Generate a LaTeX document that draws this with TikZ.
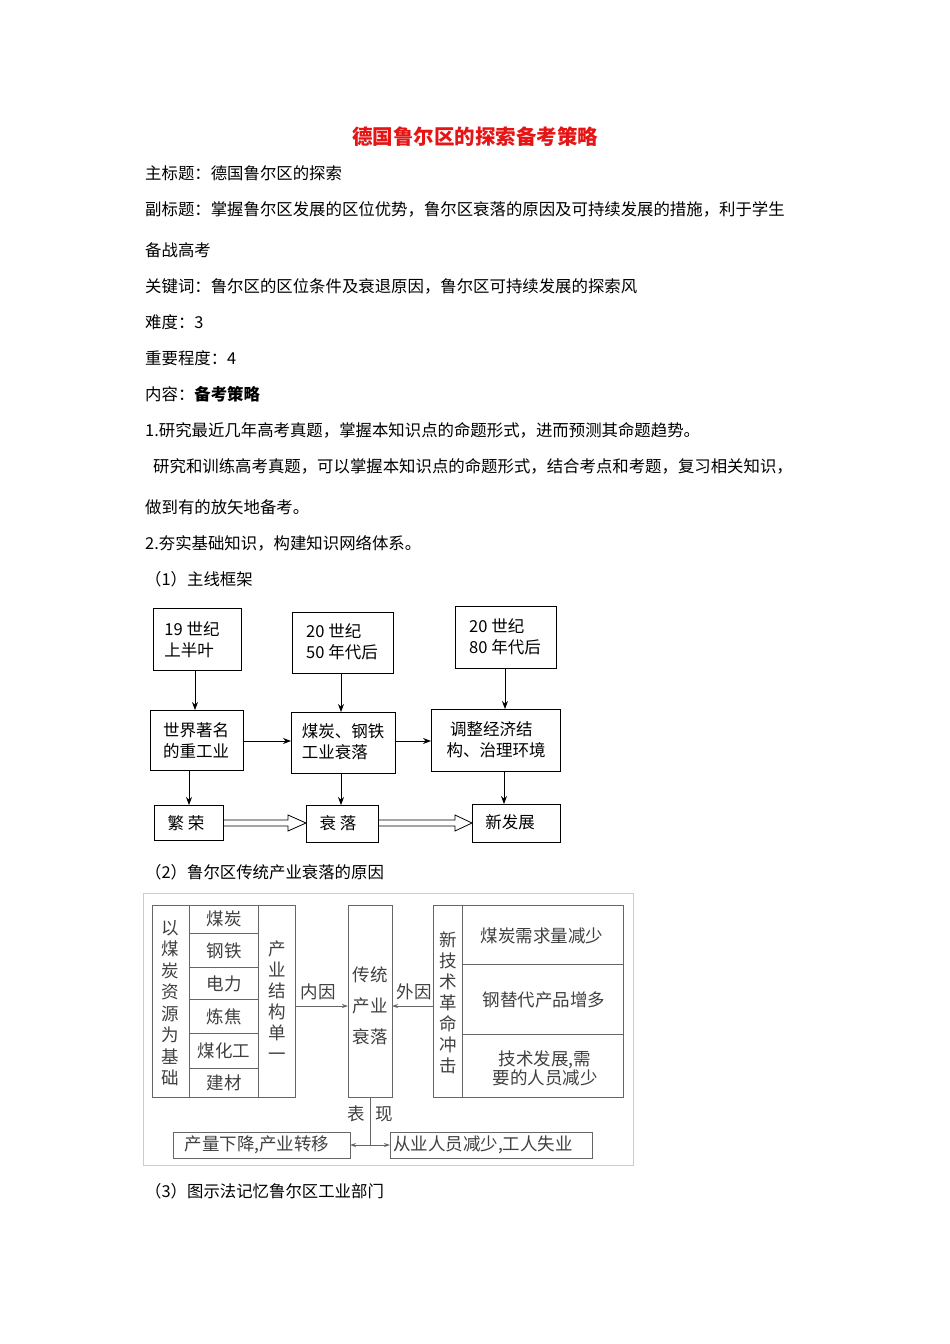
\documentclass[tikz,border=0pt]{standalone}
\usepackage{fontspec}
\setmainfont{Noto Sans CJK SC}
\usetikzlibrary{arrows.meta}
\begin{document}
\begin{tikzpicture}[x=1pt,y=-1pt,
  txt/.style={anchor=west,font=\fontsize{16.4}{18}\selectfont,inner sep=0},
  bx/.style={draw,line width=0.9pt},
  lbl/.style={font=\fontsize{16.5}{21}\selectfont,align=left,inner sep=0},
  g/.style={draw=black!60,line width=0.9pt},
  gt/.style={font=\fontsize{17.5}{19}\selectfont,text=black!75,inner sep=0},
  ar/.style={-{Stealth[length=8pt,width=6pt]},line width=0.8pt},
  gar/.style={-{Stealth[length=6pt,width=4pt]},draw=black!60,line width=0.8pt}]
\useasboundingbox[fill=white] (0,0) rectangle (950,1344);
\node[font=\bfseries\fontsize{20.5}{24}\selectfont,text={rgb,255:red,230;green,20;blue,20}] (title) at (475,137) {德国鲁尔区的探索备考策略};
\node[txt] (l1) at (145,173) {主标题：德国鲁尔区的探索};
\node[txt] (l2) at (145,209) {副标题：掌握鲁尔区发展的区位优势，鲁尔区衰落的原因及可持续发展的措施，利于学生};
\node[txt] (l3) at (145,250) {备战高考};
\node[txt] (l4) at (145,286) {关键词：鲁尔区的区位条件及衰退原因，鲁尔区可持续发展的探索风};
\node[txt] (l5) at (145,322) {难度：3};
\node[txt] (l6) at (145,358) {重要程度：4};
\node[txt] (l7) at (145,394) {内容：\textbf{备考策略}};
\node[txt] (l8) at (145,430) {1.研究最近几年高考真题，掌握本知识点的命题形式，进而预测其命题趋势。};
\node[txt] (l9) at (153,466) {研究和训练高考真题，可以掌握本知识点的命题形式，结合考点和考题，复习相关知识，};
\node[txt] (l10) at (145,507) {做到有的放矢地备考。};
\node[txt] (l11) at (145,543) {2.夯实基础知识，构建知识网络体系。};
\node[txt] (l12) at (145,579) {（1）主线框架};
\node[txt] (l13) at (145,872) {（2）鲁尔区传统产业衰落的原因};
\node[txt] (l14) at (145,1191) {（3）图示法记忆鲁尔区工业部门};
% diagram 1
\draw[bx] (153,608) rectangle (241,670); \node[lbl] (a1) at (192,640) {19 世纪\\上半叶};
\draw[bx] (292,612) rectangle (393,673); \node[lbl] (b1) at (342,642) {20 世纪\\50 年代后};
\draw[bx] (455,606) rectangle (556,668); \node[lbl] (c1) at (505,637) {20 世纪\\80 年代后};
\draw[bx] (150,710) rectangle (243,770); \node[lbl] (a2) at (196,741) {世界著名\\的重工业};
\draw[bx] (291,712) rectangle (395,773); \node[lbl] (b2) at (343,742) {煤炭、钢铁\\工业衰落};
\draw[bx] (431,709) rectangle (560,771); \node[lbl] (c2) at (496,740) {\ 调整经济结\\构、治理环境};
\draw[bx] (154,805) rectangle (223,840); \node[lbl] (a3) at (186,823) {繁 荣};
\draw[bx] (306,805) rectangle (378,842); \node[lbl] (b3) at (338,823) {衰 落};
\draw[bx] (472,804) rectangle (560,842); \node[lbl] (c3) at (510,822) {新发展};
\coordinate (a1b) at (195,670); \coordinate (a2t) at (195,710);
\draw[ar] (a1b) -- (a2t);
\draw[ar] (341,673) -- (341,712);
\draw[ar] (505,668) -- (505,709);
\draw[ar] (189,770) -- (189,805);
\draw[ar] (341,773) -- (341,805);
\draw[ar] (504,771) -- (504,804);
\draw[ar] (243,741) -- (291,741);
\draw[ar] (395,741) -- (431,741);
\draw[line width=0.8pt] (223,820) -- (288,820) -- (288,815) -- (306,823) -- (288,831) -- (288,826) -- (223,826);
\draw[line width=0.8pt] (378,820) -- (455,820) -- (455,815) -- (472,823) -- (455,831) -- (455,826) -- (378,826);
% diagram 2
\draw[draw=black!20,line width=0.6pt] (143,893) rectangle (633,1165);
\draw[g] (152,905) rectangle (295,1097);
\draw[g] (189,905) -- (189,1097); \draw[g] (258,905) -- (258,1097);
\foreach \y in {933,967,999,1033,1068} \draw[g] (189,\y) -- (258,\y);
\node[gt,align=center,font=\fontsize{17.5}{21.5}\selectfont] (d1) at (170,1003) {以\\煤\\炭\\资\\源\\为\\基\\础};
\node[gt] (e1) at (224,919) {煤炭};
\node[gt] (e2) at (224,951) {钢铁};
\node[gt] (e3) at (224,984) {电力};
\node[gt] (e4) at (224,1017) {炼焦};
\node[gt] (e5) at (224,1051) {煤化工};
\node[gt] (e6) at (224,1083) {建材};
\node[gt,align=center,font=\fontsize{17.5}{21}\selectfont] (f1) at (277,1001) {产\\业\\结\\构\\单\\一};
\draw[g] (348,905) rectangle (392,1097);
\node[gt,align=center,font=\fontsize{17.5}{31}\selectfont] (m) at (370,1006) {传统\\产业\\衰落};
\draw[g] (433,905) rectangle (623,1097);
\draw[g] (462,905) -- (462,1097);
\draw[g] (462,964) -- (623,964); \draw[g] (462,1034) -- (623,1034);
\node[gt,align=center,font=\fontsize{17.5}{21}\selectfont] (n1) at (448,1003) {新\\技\\术\\革\\命\\冲\\击};
\node[gt] (r1) at (542,936) {煤炭需求量减少};
\node[gt] (r2) at (544,1000) {钢替代产品增多};
\node[gt,align=center] (r3) at (545,1068) {技术发展,需\\要的人员减少};
\coordinate (lb) at (295,1006); \coordinate (ml) at (348,1006);
\coordinate (rb) at (433,1006); \coordinate (mr) at (392,1006);
\draw[gar] (lb) -- (ml); \node[gt] (ny) at (318,992) {内因};
\draw[gar] (rb) -- (mr); \node[gt] (wy) at (414,992) {外因};
\draw[g] (370,1097) -- (370,1145);
\node[gt] (bx1) at (356,1114) {表}; \node[gt] (bx2) at (384,1114) {现};
\draw[g] (173,1132) rectangle (350,1158); \node[gt] (o1) at (257,1145) {产量下降,产业转移};
\draw[g] (390,1132) rectangle (592,1158); \node[gt] (o2) at (483,1145) {从业人员减少,工人失业};
\draw[gar] (370,1145) -- (350,1145);
\draw[gar] (370,1145) -- (390,1145);
\end{tikzpicture}
\end{document}
